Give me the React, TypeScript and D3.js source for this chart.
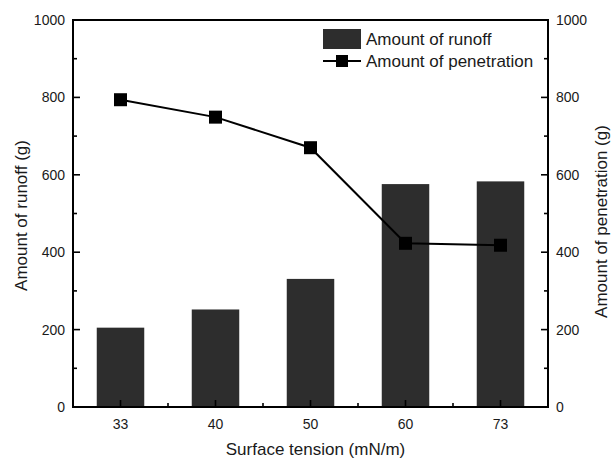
import { useEffect, useRef } from "react";
import * as d3 from "d3";

const categories = ["33", "40", "50", "60", "73"];
const runoff = [205, 252, 331, 576, 583];
const penetration = [794, 749, 670, 423, 418];
const yTicks = [0, 200, 400, 600, 800, 1000];
const yMinorTicks = [100, 300, 500, 700, 900];

export default function App() {
  const ref = useRef<SVGSVGElement | null>(null);

  useEffect(() => {
    if (!ref.current) return;
    const svg = d3.select(ref.current);
    svg.selectAll("*").remove();

    const width = 613;
    const height = 463;
    const margin = { top: 20, right: 65, bottom: 56, left: 73 };
    const font = "Arial, 'Liberation Sans', sans-serif";
    const ink = "#1a1a1a";

    const x = d3
      .scaleBand()
      .domain(categories)
      .range([margin.left, width - margin.right])
      .paddingInner(0.5)
      .paddingOuter(0.25);
    const xPoint = (c: string) => (x(c) ?? 0) + x.bandwidth() / 2;
    const step = x.step();
    const y = d3.scaleLinear().domain([0, 1000]).range([height - margin.bottom, margin.top]);

    const left = margin.left;
    const right = width - margin.right;
    const top = margin.top;
    const bottom = height - margin.bottom;

    // bars
    svg
      .append("g")
      .selectAll("rect")
      .data(categories)
      .join("rect")
      .attr("x", (d) => x(d) ?? 0)
      .attr("y", (_, i) => y(runoff[i]))
      .attr("width", x.bandwidth())
      .attr("height", (_, i) => bottom - y(runoff[i]))
      .attr("fill", "#2d2d2d");

    // frame
    svg
      .append("rect")
      .attr("x", left)
      .attr("y", top)
      .attr("width", right - left)
      .attr("height", bottom - top)
      .attr("fill", "none")
      .attr("stroke", "#000")
      .attr("stroke-width", 2);

    // y ticks, both sides, pointing inward
    const tickG = svg.append("g").attr("stroke", "#000").attr("stroke-width", 1.6);
    yTicks.forEach((t) => {
      tickG.append("line").attr("x1", left).attr("x2", left + 7).attr("y1", y(t)).attr("y2", y(t));
      tickG.append("line").attr("x1", right).attr("x2", right - 7).attr("y1", y(t)).attr("y2", y(t));
    });
    yMinorTicks.forEach((t) => {
      tickG.append("line").attr("x1", left).attr("x2", left + 4).attr("y1", y(t)).attr("y2", y(t));
      tickG.append("line").attr("x1", right).attr("x2", right - 4).attr("y1", y(t)).attr("y2", y(t));
    });
    categories.forEach((c, i) => {
      tickG.append("line").attr("x1", xPoint(c)).attr("x2", xPoint(c)).attr("y1", bottom).attr("y2", bottom - 7);
      if (i > 0) {
        const xm = xPoint(c) - step / 2;
        tickG.append("line").attr("x1", xm).attr("x2", xm).attr("y1", bottom).attr("y2", bottom - 4);
      }
    });

    const tickText = svg
      .append("g")
      .attr("font-family", font)
      .attr("font-size", 14)
      .attr("fill", ink);
    yTicks.forEach((t) => {
      tickText
        .append("text")
        .attr("x", left - 8)
        .attr("y", y(t))
        .attr("dy", "0.35em")
        .attr("text-anchor", "end")
        .text(t);
      tickText
        .append("text")
        .attr("x", right + 8)
        .attr("y", y(t))
        .attr("dy", "0.35em")
        .attr("text-anchor", "start")
        .text(t);
    });
    categories.forEach((c) => {
      tickText
        .append("text")
        .attr("x", xPoint(c))
        .attr("y", bottom + 22)
        .attr("text-anchor", "middle")
        .text(c);
    });

    // line series
    const line = d3
      .line<number>()
      .x((_, i) => xPoint(categories[i]))
      .y((d) => y(d));
    svg
      .append("path")
      .datum(penetration)
      .attr("fill", "none")
      .attr("stroke", "#000")
      .attr("stroke-width", 2)
      .attr("d", line);
    svg
      .append("g")
      .selectAll("rect")
      .data(penetration)
      .join("rect")
      .attr("x", (_, i) => xPoint(categories[i]) - 6.5)
      .attr("y", (d) => y(d) - 6.5)
      .attr("width", 13)
      .attr("height", 13)
      .attr("fill", "#000");

    // axis titles
    const titles = svg.append("g").attr("font-family", font).attr("font-size", 17).attr("fill", ink);
    titles
      .append("text")
      .attr("transform", `translate(27,${(top + bottom) / 2 + 2}) rotate(-90)`)
      .attr("text-anchor", "middle")
      .text("Amount of runoff (g)");
    titles
      .append("text")
      .attr("transform", `translate(607,${(top + bottom) / 2 + 8}) rotate(-90)`)
      .attr("text-anchor", "middle")
      .text("Amount of penetration (g)");
    titles
      .append("text")
      .attr("x", (left + right) / 2 + 5)
      .attr("y", 455)
      .attr("text-anchor", "middle")
      .text("Surface tension (mN/m)");

    // legend
    const lg = svg.append("g").attr("font-family", font).attr("font-size", 17).attr("fill", ink);
    lg.append("rect").attr("x", 323).attr("y", 29).attr("width", 38).attr("height", 20).attr("fill", "#2d2d2d");
    lg.append("text").attr("x", 366).attr("y", 39).attr("dy", "0.35em").text("Amount of runoff");
    lg.append("line").attr("x1", 323).attr("x2", 361).attr("y1", 61).attr("y2", 61).attr("stroke", "#000").attr("stroke-width", 2);
    lg.append("rect").attr("x", 336).attr("y", 55).attr("width", 12).attr("height", 12).attr("fill", "#000");
    lg.append("text").attr("x", 366).attr("y", 61).attr("dy", "0.35em").text("Amount of penetration");
  }, []);

  return (
    <svg
      ref={ref}
      width={613}
      height={463}
      style={{ position: "absolute", left: 0, top: 0, background: "#fff" }}
    />
  );
}
